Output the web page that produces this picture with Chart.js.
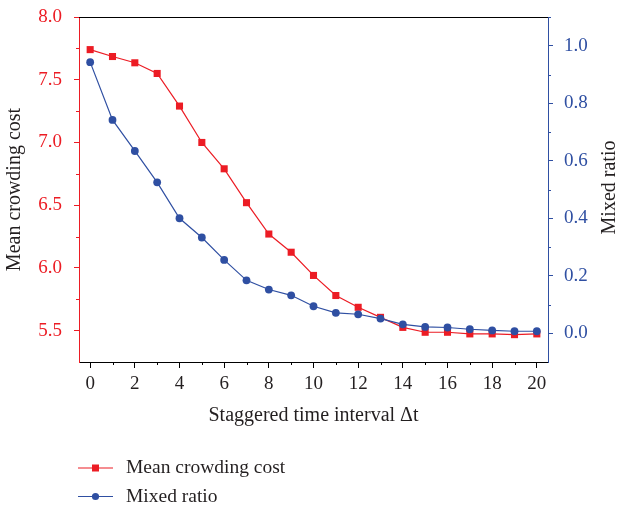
<!DOCTYPE html>
<html>
<head>
<meta charset="utf-8">
<script src="https://cdn.jsdelivr.net/npm/chart.js@4/dist/chart.umd.min.js"></script>
<style>
  html, body { margin: 0; padding: 0; background: #ffffff; }
  #wrap { width: 619px; height: 506px; }
</style>
</head>
<body>
<div id="wrap"><canvas id="c" width="619" height="506"></canvas></div>
<script>
// ---- data ----
const INTERVALS   = [0,1,2,3,4,5,6,7,8,9,10,11,12,13,14,15,16,17,18,19,20];
const MEAN_COST   = [7.74,7.685,7.635,7.55,7.29,7.00,6.79,6.52,6.27,6.125,5.94,5.78,5.686,5.606,5.526,5.487,5.487,5.474,5.474,5.468,5.474];
const MIXED_RATIO = [0.943,0.742,0.634,0.525,0.400,0.333,0.255,0.184,0.152,0.132,0.094,0.071,0.066,0.051,0.031,0.022,0.020,0.014,0.010,0.007,0.007];

const X_TICKS      = [0,2,4,6,8,10,12,14,16,18,20];
const X_MINOR      = [1,3,5,7,9,11,13,15,17,19];
const LEFT_TICKS   = [5.5,6.0,6.5,7.0,7.5,8.0];
const LEFT_MINOR   = [5.75,6.25,6.75,7.25,7.75];
const RIGHT_TICKS  = [0.0,0.2,0.4,0.6,0.8,1.0];
const RIGHT_MINOR  = [0.1,0.3,0.5,0.7,0.9,1.1];

const LABEL_COST  = 'Mean crowding cost';
const LABEL_RATIO = 'Mixed ratio';
const X_TITLE     = 'Staggered time interval \u0394t';

const RED  = '#ec1c24';
const BLUE = '#2f4fa2';
const TEXT = '#231f20';
const SERIF = "'Liberation Serif', 'DejaVu Serif', serif";

Chart.defaults.font.family = SERIF;

const extrasPlugin = {
  id: 'extras',
  afterDraw(chart) {
    const ctx = chart.ctx;
    const a = chart.chartArea;
    const xs = chart.scales.x, yl = chart.scales.yL, yr = chart.scales.yR;
    ctx.save();
    // top frame line
    ctx.strokeStyle = '#000000';
    ctx.lineWidth = 1;
    ctx.beginPath();
    ctx.moveTo(a.left, a.top + 0.5);
    ctx.lineTo(a.right, a.top + 0.5);
    ctx.stroke();
    // minor ticks
    ctx.strokeStyle = '#000000';
    ctx.beginPath();
    X_MINOR.forEach(v => {
      const p = Math.round(xs.getPixelForValue(v)) + 0.5;
      ctx.moveTo(p, a.bottom); ctx.lineTo(p, a.bottom + 3);
    });
    ctx.stroke();
    ctx.strokeStyle = RED;
    ctx.beginPath();
    LEFT_MINOR.forEach(v => {
      const p = Math.round(yl.getPixelForValue(v)) + 0.5;
      ctx.moveTo(a.left, p); ctx.lineTo(a.left - 3, p);
    });
    ctx.stroke();
    ctx.strokeStyle = BLUE;
    ctx.beginPath();
    RIGHT_MINOR.forEach(v => {
      const p = Math.round(yr.getPixelForValue(v)) + 0.5;
      ctx.moveTo(a.right, p); ctx.lineTo(a.right + 3, p);
    });
    ctx.stroke();

    // right axis title, reading bottom-to-top as in the reference
    ctx.save();
    ctx.translate(yr.right - 9.5, (a.top + a.bottom) / 2 - 2);
    ctx.rotate(-Math.PI / 2);
    ctx.fillStyle = TEXT;
    ctx.font = "20px " + SERIF;
    ctx.textAlign = 'center';
    ctx.textBaseline = 'middle';
    ctx.fillText(LABEL_RATIO, 0, 0);
    ctx.restore();

    // custom legend (line + marker + label)
    const x0 = 78, x1 = 113, tx = 126;
    chart.data.datasets.forEach((ds, i) => {
      const y = 468 + i * 28.5;
      ctx.strokeStyle = ds.borderColor;
      ctx.lineWidth = 1.2;
      ctx.beginPath();
      ctx.moveTo(x0, y); ctx.lineTo(x1, y);
      ctx.stroke();
      ctx.fillStyle = ds.pointBackgroundColor;
      const cx = (x0 + x1) / 2;
      if (ds.pointStyle === 'rect') {
        ctx.fillRect(cx - 3.5, y - 3.5, 7, 7);
      } else {
        ctx.beginPath();
        ctx.arc(cx, y, 3.6, 0, Math.PI * 2);
        ctx.fill();
      }
      ctx.fillStyle = TEXT;
      ctx.font = "19.5px " + SERIF;
      ctx.textAlign = 'left';
      ctx.textBaseline = 'middle';
      ctx.fillText(ds.label, tx, y);
    });
    ctx.restore();
  }
};

const toXY = (ys) => INTERVALS.map((x, i) => ({ x: x, y: ys[i] }));
const noPad = s => { s.paddingTop = 0; s.paddingBottom = 0; s.paddingLeft = 0; s.paddingRight = 0; };

new Chart(document.getElementById('c'), {
  type: 'line',
  data: {
    datasets: [
      {
        label: LABEL_COST,
        data: toXY(MEAN_COST),
        yAxisID: 'yL',
        borderColor: RED,
        backgroundColor: RED,
        pointBackgroundColor: RED,
        pointBorderColor: RED,
        pointBorderWidth: 0,
        pointStyle: 'rect',
        pointRadius: 5,
        borderWidth: 1.2,
        tension: 0,
        order: 2
      },
      {
        label: LABEL_RATIO,
        data: toXY(MIXED_RATIO),
        yAxisID: 'yR',
        borderColor: BLUE,
        backgroundColor: BLUE,
        pointBackgroundColor: BLUE,
        pointBorderColor: BLUE,
        pointBorderWidth: 0,
        pointStyle: 'circle',
        pointRadius: 3.9,
        borderWidth: 1.2,
        tension: 0,
        order: 1
      }
    ]
  },
  options: {
    responsive: false,
    animation: false,
    events: [],
    layout: { padding: { top: 17, bottom: 78, left: 0, right: 0 } },
    plugins: { legend: { display: false }, tooltip: { enabled: false } },
    scales: {
      x: {
        type: 'linear',
        position: 'bottom',
        min: -0.5, max: 20.5,
        afterBuildTicks: s => { s.ticks = X_TICKS.map(v => ({ value: v })); },
        afterFit: s => { s.height = 66; noPad(s); },
        grid: { drawOnChartArea: false, color: '#000000', tickLength: 6, tickColor: '#000000' },
        border: { color: '#000000', width: 1 },
        ticks: { color: TEXT, font: { size: 19 }, padding: 5, maxRotation: 0, autoSkip: false,
                 callback: v => String(v) },
        title: { display: true, text: X_TITLE, color: TEXT, font: { size: 20, lineHeight: 1 },
                 padding: { top: 0, bottom: 2 } }
      },
      yL: {
        type: 'linear',
        position: 'left',
        min: 5.25, max: 8.0,
        afterBuildTicks: s => { s.ticks = LEFT_TICKS.map(v => ({ value: v })); },
        afterFit: s => { s.width = 79; noPad(s); },
        grid: { drawOnChartArea: false, tickLength: 5, tickColor: RED, color: RED },
        border: { color: RED, width: 1 },
        ticks: { color: RED, font: { size: 19 }, padding: 12, callback: v => Number(v).toFixed(1) },
        title: { display: true, text: LABEL_COST, color: TEXT, font: { size: 20, lineHeight: 1 },
                 padding: { top: 5, bottom: 0 } }
      },
      yR: {
        type: 'linear',
        position: 'right',
        min: -0.1, max: 1.1,
        afterBuildTicks: s => { s.ticks = RIGHT_TICKS.map(v => ({ value: v })); },
        afterFit: s => { s.width = 71; noPad(s); },
        grid: { drawOnChartArea: false, tickLength: 5, tickColor: BLUE, color: BLUE },
        border: { color: BLUE, width: 1 },
        ticks: { color: BLUE, font: { size: 19 }, padding: 11, callback: v => Number(v).toFixed(1) },
        title: { display: false, text: LABEL_RATIO }
      }
    }
  },
  plugins: [extrasPlugin]
});
</script>
</body>
</html>
